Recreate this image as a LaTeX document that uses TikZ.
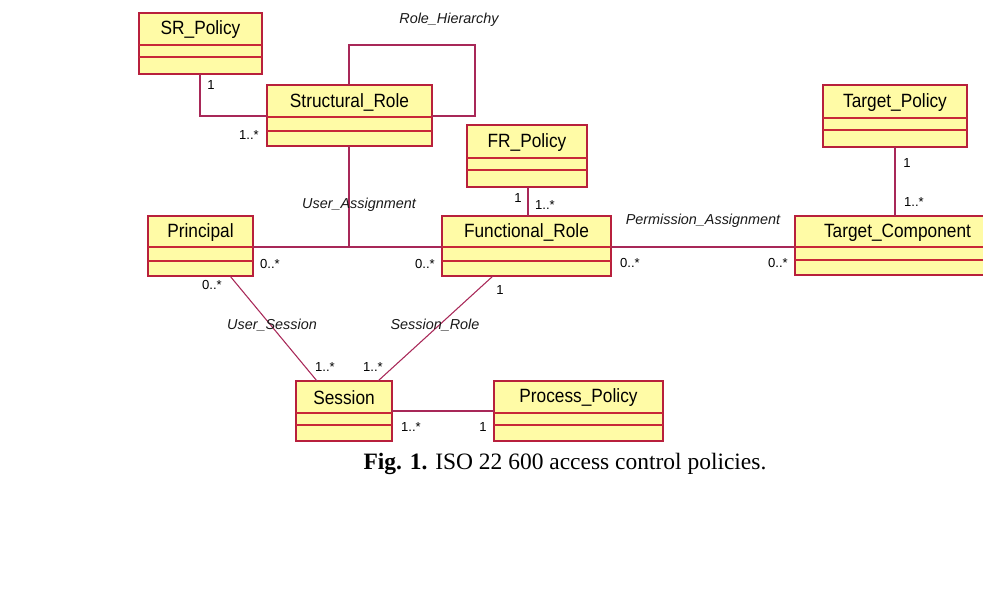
\documentclass[tikz,border=0pt]{standalone}
\usepackage{fontspec}
\setmainfont{Liberation Sans}
\newfontfamily\clsfont[FakeStretch=0.9]{Liberation Sans}
\newfontfamily\capfont{Liberation Serif}
\definecolor{boxfill}{HTML}{FFFBA6}
\definecolor{boxline}{HTML}{B8203C}
\definecolor{divline}{HTML}{C82838}
\definecolor{assocline}{HTML}{A82858}
\tikzset{
  cls/.style={draw=boxline,fill=boxfill,line width=1pt,inner sep=0pt,outer sep=0pt},
  divider/.style={draw=divline,line width=0.9pt},
  clsname/.style={inner sep=0pt,font=\clsfont\fontsize{14.4}{16}\selectfont,text=black},
  assoc/.style={draw=assocline,line width=0.8pt},
  mult/.style={inner sep=0pt,font=\fontsize{9.8}{11}\selectfont,text=black},
  role/.style={inner sep=0pt,font=\fontsize{10.8}{12}\selectfont\itshape,text=black!90},
}
\newcommand\umlclass[8]{%
  \node[cls,minimum width={(#4-#2)*0.75pt},minimum height={(#5-#3)*0.75pt}] (#1) at ({(#2+#4)/2},{(#3+#5)/2}) {};
  \draw[divider] (#1.west |- 0,#6) -- (#1.east |- 0,#6);
  \draw[divider] (#1.west |- 0,#7) -- (#1.east |- 0,#7);
  \node[clsname] (#1-name) at ({(#2+#4)/2},{(#3+#6)/2+1}) {#8};
}
\begin{document}
\begin{tikzpicture}[x=0.75pt,y=-0.75pt]
\useasboundingbox (0,0) rectangle (983,598);
\begin{scope}
\clip (0,0) rectangle (983,598);
\umlclass{srp}{139}{13}{262}{74}{45}{57}{SR\_Policy}
\umlclass{sr}{267}{85}{432}{146}{117}{131}{Structural\_Role}
\umlclass{frp}{467}{125}{587}{187}{158}{170}{FR\_Policy}
\umlclass{pr}{148}{216}{253}{276}{247}{261}{Principal}
\umlclass{fr}{442}{216}{611}{276}{247}{261}{Functional\_Role}
\umlclass{tp}{823}{85}{967}{147}{118}{130}{Target\_Policy}
\umlclass{tc}{795}{216}{1000}{275}{247}{260}{Target\_Component}
\umlclass{ss}{296}{381}{392}{441}{413}{425}{Session}
\umlclass{pp}{494}{381}{663}{441}{413}{425}{Process\_Policy}
\end{scope}

% associations
\draw[assoc] (srp.south -| 200,0) |- (sr.west |- 0,116);
\draw[assoc] (sr.north -| 349,0) |- (475,45) |- (sr.east |- 0,116);
\coordinate (uaj) at (349,247);
\draw[assoc] (sr.south -| 349,0) -- (uaj);
\draw[assoc] (pr.east |- 0,247) -- (fr.west |- 0,247);
\draw[assoc] (frp.south -| 528,0) -- (fr.north -| 528,0);
\draw[assoc] (fr.east |- 0,247) -- (tc.west |- 0,247);
\draw[assoc] (tp.south -| 895,0) -- (tc.north -| 895,0);
\draw[assoc] (pr.south -| 230,0) -- (ss.north -| 317,0);
\draw[assoc] (fr.south -| 493,0) -- (ss.north -| 378,0);
\draw[assoc] (ss.east |- 0,411) -- (pp.west |- 0,411);

% role names
\node[role] (lrh) at (449,20) {Role\_Hierarchy};
\node[role] (lua) at (359,205) {User\_Assignment};
\node[role] (lpa) at (703,221) {Permission\_Assignment};
\node[role] (lus) at (272,325) {User\_Session};
\node[role] (lsr) at (435,325) {Session\_Role};

% multiplicities
\node[mult] (m1) at (211,85) {1};
\node[mult] (m2) at (249,135) {1..*};
\node[mult] (m3) at (518,198) {1};
\node[mult] (m4) at (545,205) {1..*};
\node[mult] (m5) at (270,264) {0..*};
\node[mult] (m6) at (425,264) {0..*};
\node[mult] (m7) at (630,263) {0..*};
\node[mult] (m8) at (778,263) {0..*};
\node[mult] (m9) at (907,163) {1};
\node[mult] (m10) at (914,202) {1..*};
\node[mult] (m11) at (212,285) {0..*};
\node[mult] (m12) at (500,290) {1};
\node[mult] (m13) at (325,367) {1..*};
\node[mult] (m14) at (373,367) {1..*};
\node[mult] (m15) at (411,427) {1..*};
\node[mult] (m16) at (483,427) {1};

% caption
\node[inner sep=0pt,font=\capfont\fontsize{17.6}{20}\selectfont] (cap) at (565,464) {\textbf{Fig. 1.} ISO 22 600 access control policies.};
\end{tikzpicture}
\end{document}
